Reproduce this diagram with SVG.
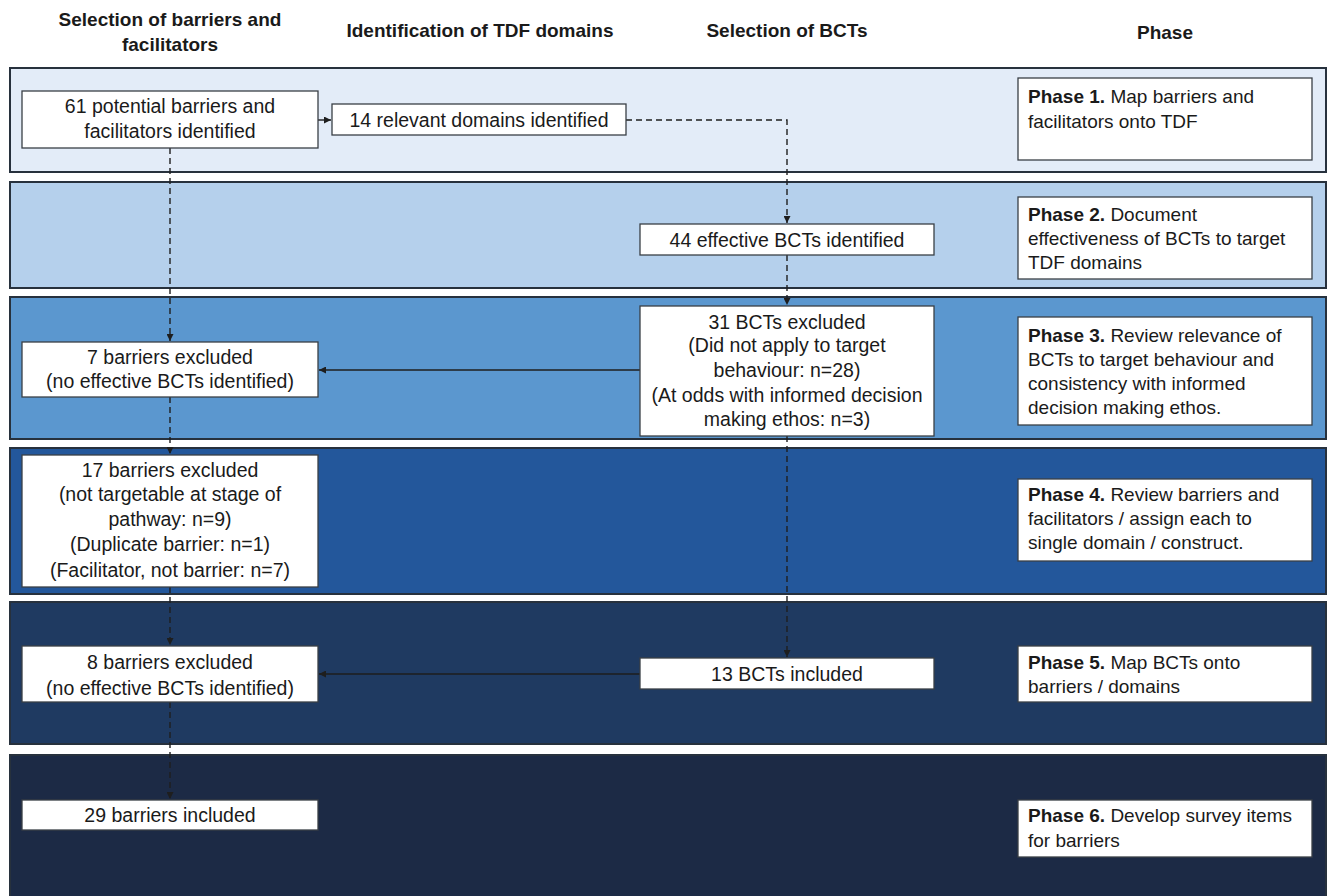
<svg xmlns="http://www.w3.org/2000/svg" width="1328" height="896" viewBox="0 0 1328 896">
<style>
.hdr{font-family:"Liberation Sans",Arial,sans-serif;font-weight:bold;font-size:19px;fill:#1a1a1a;text-anchor:middle}
.band{stroke:#27313d;stroke-width:2}
.box{fill:#ffffff;stroke:#3a3f45;stroke-width:1.3}
.t{font-family:"Liberation Sans",Arial,sans-serif;font-size:19.5px;fill:#1a1a1a;text-anchor:middle}
.p{font-family:"Liberation Sans",Arial,sans-serif;font-size:19px;fill:#1a1a1a}
.p tspan.b{font-weight:bold}
.dash{fill:none;stroke:#1e1e1e;stroke-width:1.4;stroke-dasharray:6 4}
.solid{fill:none;stroke:#1e1e1e;stroke-width:1.4}
</style>
<defs>
<marker id="ah" viewBox="0 0 10 10" refX="10" refY="5" markerWidth="7" markerHeight="7" orient="auto" markerUnits="userSpaceOnUse">
<path d="M0,0 L10,5 L0,10 z" fill="#1e1e1e"/>
</marker>
</defs>
<rect width="1328" height="896" fill="#ffffff"/>

<g id="headers">
<text class="hdr" x="170" y="26">Selection of barriers and</text>
<text class="hdr" x="170" y="51">facilitators</text>
<text class="hdr" x="480" y="37">Identification of TDF domains</text>
<text class="hdr" x="787" y="37">Selection of BCTs</text>
<text class="hdr" x="1165" y="39">Phase</text>
</g>

<g id="bands">
<rect class="band" x="10" y="68" width="1316" height="104" fill="#e3ecf8"/>
<rect class="band" x="10" y="182" width="1316" height="106" fill="#b5d0ec"/>
<rect class="band" x="10" y="297" width="1316" height="142" fill="#5b97cf"/>
<rect class="band" x="10" y="448" width="1316" height="146" fill="#23579b"/>
<rect class="band" x="10" y="602" width="1316" height="142" fill="#1f3a61"/>
<rect class="band" x="10" y="755" width="1316" height="145" fill="#1c2a45"/>
</g>

<g id="connectors">
<line class="solid" x1="318" y1="120" x2="331" y2="120" marker-end="url(#ah)"/>
<polyline class="dash" points="626,120 787,120 787,223" marker-end="url(#ah)"/>
<line class="dash" x1="787" y1="255" x2="787" y2="305" marker-end="url(#ah)"/>
<line class="dash" x1="787" y1="436" x2="787" y2="657" marker-end="url(#ah)"/>
<line class="dash" x1="170" y1="148" x2="170" y2="341" marker-end="url(#ah)"/>
<line class="dash" x1="170" y1="397" x2="170" y2="454" marker-end="url(#ah)"/>
<line class="dash" x1="170" y1="587" x2="170" y2="645" marker-end="url(#ah)"/>
<line class="dash" x1="170" y1="702" x2="170" y2="799" marker-end="url(#ah)"/>
<line class="solid" x1="640" y1="370" x2="319" y2="370" marker-end="url(#ah)"/>
<line class="solid" x1="640" y1="674" x2="319" y2="674" marker-end="url(#ah)"/>
</g>

<g id="n61">
<rect class="box" x="22" y="91" width="296" height="57"/>
<text class="t" x="170" y="113">61 potential barriers and</text>
<text class="t" x="170" y="138">facilitators identified</text>
</g>
<g id="n14">
<rect class="box" x="332" y="104" width="294" height="31"/>
<text class="t" x="479" y="127">14 relevant domains identified</text>
</g>
<g id="phase1">
<rect class="box" x="1018" y="78" width="294" height="82"/>
<text class="p" x="1028" y="103"><tspan class="b">Phase 1.</tspan> Map barriers and</text>
<text class="p" x="1028" y="128">facilitators onto TDF</text>
</g>

<g id="n44">
<rect class="box" x="640" y="224" width="294" height="31"/>
<text class="t" x="787" y="247">44 effective BCTs identified</text>
</g>
<g id="phase2">
<rect class="box" x="1018" y="197" width="294" height="82"/>
<text class="p" x="1028" y="221"><tspan class="b">Phase 2.</tspan> Document</text>
<text class="p" x="1028" y="245">effectiveness of BCTs to target</text>
<text class="p" x="1028" y="269">TDF domains</text>
</g>

<g id="n31">
<rect class="box" x="640" y="306" width="294" height="130"/>
<text class="t" x="787" y="329">31 BCTs excluded</text>
<text class="t" x="787" y="352">(Did not apply to target</text>
<text class="t" x="787" y="377">behaviour: n=28)</text>
<text class="t" x="787" y="402">(At odds with informed decision</text>
<text class="t" x="787" y="426">making ethos: n=3)</text>
</g>
<g id="n7">
<rect class="box" x="22" y="342" width="296" height="55"/>
<text class="t" x="170" y="364">7 barriers excluded</text>
<text class="t" x="170" y="388">(no effective BCTs identified)</text>
</g>
<g id="phase3">
<rect class="box" x="1018" y="317" width="294" height="108"/>
<text class="p" x="1028" y="342"><tspan class="b">Phase 3.</tspan> Review relevance of</text>
<text class="p" x="1028" y="366">BCTs to target behaviour and</text>
<text class="p" x="1028" y="390">consistency with informed</text>
<text class="p" x="1028" y="414">decision making ethos.</text>
</g>

<g id="n17">
<rect class="box" x="22" y="455" width="296" height="132"/>
<text class="t" x="170" y="477">17 barriers excluded</text>
<text class="t" x="170" y="501">(not targetable at stage of</text>
<text class="t" x="170" y="526">pathway: n=9)</text>
<text class="t" x="170" y="551">(Duplicate barrier: n=1)</text>
<text class="t" x="170" y="577">(Facilitator, not barrier: n=7)</text>
</g>
<g id="phase4">
<rect class="box" x="1018" y="479" width="294" height="82"/>
<text class="p" x="1028" y="501"><tspan class="b">Phase 4.</tspan> Review barriers and</text>
<text class="p" x="1028" y="525">facilitators / assign each to</text>
<text class="p" x="1028" y="549">single domain / construct.</text>
</g>

<g id="n8">
<rect class="box" x="22" y="646" width="296" height="56"/>
<text class="t" x="170" y="669">8 barriers excluded</text>
<text class="t" x="170" y="695">(no effective BCTs identified)</text>
</g>
<g id="n13">
<rect class="box" x="640" y="658" width="294" height="31"/>
<text class="t" x="787" y="681">13 BCTs included</text>
</g>
<g id="phase5">
<rect class="box" x="1018" y="646" width="294" height="56"/>
<text class="p" x="1028" y="669"><tspan class="b">Phase 5.</tspan> Map BCTs onto</text>
<text class="p" x="1028" y="693">barriers / domains</text>
</g>

<g id="n29">
<rect class="box" x="22" y="800" width="296" height="30"/>
<text class="t" x="170" y="822">29 barriers included</text>
</g>
<g id="phase6">
<rect class="box" x="1018" y="800" width="294" height="57"/>
<text class="p" x="1028" y="822"><tspan class="b">Phase 6.</tspan> Develop survey items</text>
<text class="p" x="1028" y="847">for barriers</text>
</g>
</svg>
